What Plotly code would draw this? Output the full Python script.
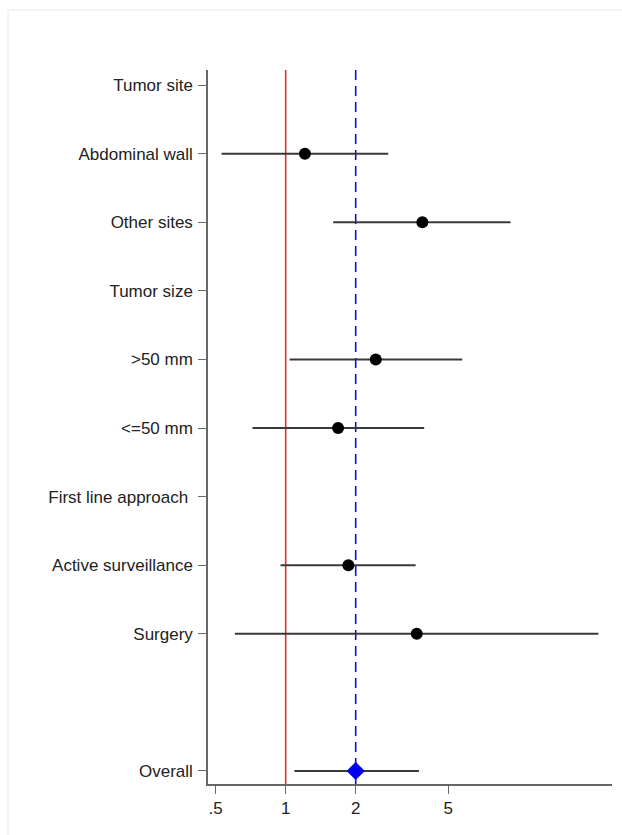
import plotly.graph_objects as go

# Data
labels = ["Tumor site", "Abdominal wall", "Other sites", "Tumor size", ">50 mm",
          "<=50 mm", "First line approach\u00a0", "Active surveillance", "Surgery", "Overall"]
positions = [1, 2, 3, 4, 5, 6, 7, 8, 9, 11]
est = [None, 1.21, 3.87, None, 2.44, 1.68, None, 1.86, 3.66]
lo = [None, 0.53, 1.60, None, 1.04, 0.72, None, 0.95, 0.605]
hi = [None, 2.76, 9.27, None, 5.74, 3.94, None, 3.62, 22.1]
overall_est = 2.0
overall_lo = 1.09
overall_hi = 3.74
ref_null = 1
xtick_vals = [0.5, 1, 2, 5]
xtick_text = [".5", "1", "2", "5"]

fig = go.Figure()

# reference lines (drawn as shapes below the data)
fig.add_shape(type="line", xref="x", yref="paper", x0=ref_null, x1=ref_null, y0=0, y1=1,
              line=dict(color="#e03030", width=1.6), layer="below")
fig.add_shape(type="line", xref="x", yref="paper", x0=overall_est, x1=overall_est, y0=0, y1=1,
              line=dict(color="#1010cc", width=1.6, dash="10px,6px"), layer="below")

# CI lines
cx, cy = [], []
for p, l, h in zip(positions[:9], lo, hi):
    if l is None:
        continue
    cx += [l, h, None]
    cy += [p, p, None]
cx += [overall_lo, overall_hi, None]
cy += [positions[9], positions[9], None]
fig.add_trace(go.Scatter(x=cx, y=cy, mode="lines",
                         line=dict(color="#3a3a3a", width=2),
                         hoverinfo="skip", showlegend=False))

# point estimates
px = [e for e in est if e is not None]
py = [p for p, e in zip(positions[:9], est) if e is not None]
fig.add_trace(go.Scatter(x=px, y=py, mode="markers",
                         marker=dict(symbol="circle", size=12, color="black"),
                         showlegend=False))
fig.add_trace(go.Scatter(x=[overall_est], y=[positions[9]], mode="markers",
                         marker=dict(symbol="diamond", size=14, color="#0000ee"),
                         showlegend=False))

# faint outer frame
fig.add_shape(type="line", xref="paper", yref="paper", x0=-0.495, x1=1.1, y0=1.084, y1=1.084,
              line=dict(color="#eef0f2", width=1.5))
fig.add_shape(type="line", xref="paper", yref="paper", x0=-0.495, x1=-0.495, y0=-0.2, y1=1.084,
              line=dict(color="#eef0f2", width=1.5))

axis_font = dict(family="Liberation Sans, Arial, sans-serif", size=17, color="#222222")

fig.update_layout(
    width=622, height=835,
    margin=dict(l=208, r=10, t=70, b=51),
    paper_bgcolor="white", plot_bgcolor="white",
    showlegend=False,
    xaxis=dict(type="log", range=[-0.334, 1.403], tickvals=xtick_vals, ticktext=xtick_text,
               showgrid=False, zeroline=False, showline=True, linecolor="#666666", linewidth=1.5,
               ticks="outside", ticklen=8, tickcolor="#666666", tickwidth=1.2,
               tickfont=axis_font),
    yaxis=dict(range=[11.19, 0.78], tickvals=positions, ticktext=labels,
               showgrid=False, zeroline=False, showline=True, linecolor="#666666", linewidth=1.5,
               ticks="outside", ticklen=8, tickcolor="#666666", tickwidth=1.2,
               ticklabelstandoff=2, tickfont=axis_font),
)

fig.write_html("out.html")
